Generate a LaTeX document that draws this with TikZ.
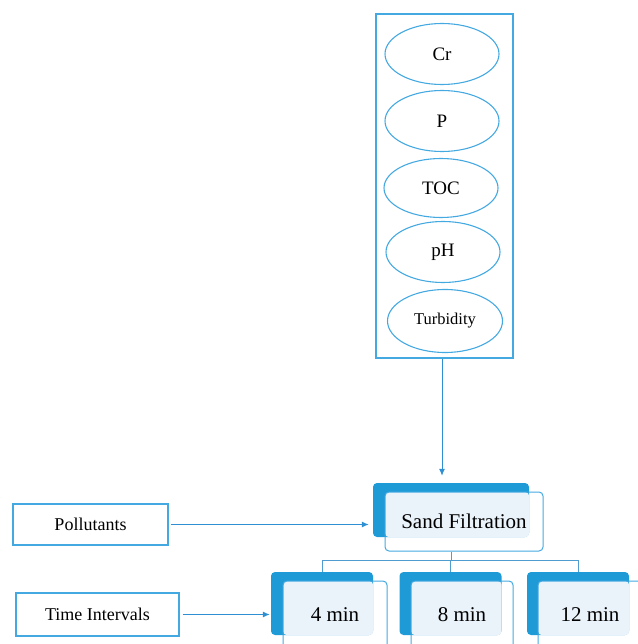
\documentclass[tikz,border=0pt]{standalone}
\usepackage{fontspec}
\setmainfont{Liberation Serif}
\usetikzlibrary{shapes.geometric,arrows.meta}
\definecolor{edgeblue}{HTML}{45A9E1}
\definecolor{darkblue}{HTML}{1E9AD6}
\definecolor{paleblue}{HTML}{EAF2FA}
\definecolor{arrowblue}{HTML}{2F8FD3}
\definecolor{treeblue}{HTML}{4E9CD0}
\begin{document}
\begin{tikzpicture}[x=1pt,y=-1pt,
param/.style={ellipse, draw=edgeblue, line width=1.1pt, inner sep=0pt,
  minimum width=114pt, minimum height=61pt, font=\fontsize{19}{22}\selectfont},
backbox/.style={rectangle, rounded corners=4pt, fill=darkblue, inner sep=0pt},
frontbox/.style={rectangle, rounded corners=4pt, draw=edgeblue, line width=1pt,
  inner sep=0pt, font=\fontsize{21}{25}\selectfont},
sidebox/.style={rectangle, draw=edgeblue, line width=1.1pt, inner sep=0pt,
  font=\fontsize{18}{21}\selectfont},
link/.style={draw=arrowblue, line width=1pt, -{Latex[length=7pt,width=6pt]}},
tree/.style={draw=treeblue, line width=1pt}]
\useasboundingbox (0,0) rectangle (637,644);
% parameters
\node[draw=edgeblue, line width=1.2pt, minimum width=137pt, minimum height=344pt, inner sep=0pt] (params) at (444.5,186) {};
\node[param] (cr) at (442,54) {Cr};
\node[param] (p) at (442,121) {P};
\node[param, minimum height=59pt] (toc) at (441,188) {TOC};
\node[param] (ph) at (443,252) {pH};
\node[param, minimum width=115pt, minimum height=63pt, font=\fontsize{16.5}{19}\selectfont] (turb) at (445,321) {Turbidity};
% sand filtration
\node[backbox, minimum width=156pt, minimum height=54pt] (sfback) at (451,510) {};
\fill[paleblue, rounded corners=4pt] (385,492) rectangle (sfback.south east);
\node[frontbox, minimum width=158pt, minimum height=59pt] (sand) at (464,521.5) {Sand Filtration};
% time intervals
\node[backbox, minimum width=102pt, minimum height=63pt] (t4b) at (322,603.5) {};
\fill[paleblue, rounded corners=4pt] (283,581) rectangle (t4b.south east);
\node[frontbox, minimum width=104pt, minimum height=68pt] (t4) at (335,615) {4 min};
\node[backbox, minimum width=102pt, minimum height=63pt] (t8b) at (450.5,603.5) {};
\fill[paleblue, rounded corners=4pt] (411,581) rectangle (t8b.south east);
\node[frontbox, minimum width=102pt, minimum height=68pt] (t8) at (462,615) {8 min};
\node[backbox, minimum width=102pt, minimum height=63pt] (t12b) at (578,603.5) {};
\fill[paleblue, rounded corners=4pt] (538,581) rectangle (t12b.south east);
\node[frontbox, minimum width=104pt, minimum height=68pt] (t12) at (590,615) {12 min};
% side labels
\node[sidebox, minimum width=155pt, minimum height=41pt] (poll) at (90.5,524.5) {Pollutants};
\node[sidebox, minimum width=163pt, minimum height=43pt] (time) at (97.5,614.5) {Time Intervals};
% connectors
\draw[link, shorten >=7pt] (params.south -| cr.south) -- (cr.south |- sfback.north);
\draw[link, shorten <=2pt, shorten >=4pt] (poll.east) -- (poll.east -| sfback.west);
\draw[link, shorten <=3pt, shorten >=1pt] (time.east) -- (time.east -| t4b.west);
\draw[tree] (sfback.south |- sand.south) -- ++(0,9) coordinate (split);
\draw[tree] (t4b.north) |- (split) -| (t12b.north);
\draw[tree] (t8b.north) -- (t8b.north |- split);
\end{tikzpicture}
\end{document}
